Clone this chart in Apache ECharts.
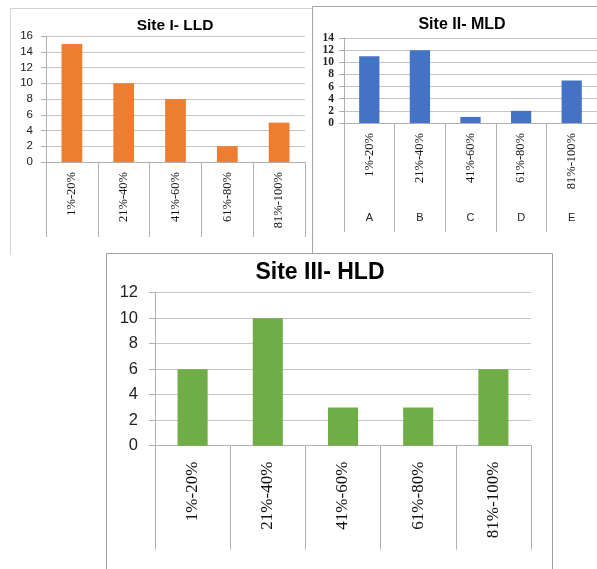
<!DOCTYPE html>
<html>
<head>
<meta charset="utf-8">
<script src="https://cdn.jsdelivr.net/npm/echarts@6/dist/echarts.min.js"></script>
<style>
  html, body { margin: 0; padding: 0; background: #fff; width: 597px; height: 569px; overflow: hidden; }
  .panel { position: absolute; background: #fff; }
</style>
</head>
<body>
<div id="c1" class="panel" style="left:10px; top:8px; width:302px; height:250px;"></div>
<div id="c2" class="panel" style="left:312px; top:6px; width:285px; height:247px;"></div>
<div id="c3" class="panel" style="left:106px; top:253px; width:447px; height:316px;"></div>
<script>
// Share of defoliation classes at three sites
const categories = ['1%-20%', '21%-40%', '41%-60%', '61%-80%', '81%-100%'];
const groupLetters = ['A', 'B', 'C', 'D', 'E'];
const siteLLD = [15, 10, 8, 2, 5];
const siteMLD = [11, 12, 1, 2, 7];
const siteHLD = [6, 10, 3, 3, 6];

const GRID_COLOR = '#c4c4c4';
const AXIS_COLOR = '#b0b0b0';
const SANS = '"Liberation Sans", Arial, sans-serif';
const SERIF = '"Liberation Serif", "Times New Roman", serif';

function frame(points, color) {
  return { type: 'polyline', silent: true, shape: { points: points },
           style: { stroke: color, lineWidth: 1, fill: null } };
}

function titleText(text, x, y, size) {
  return { type: 'text', x: x, y: y, silent: true,
           style: { text: text, fontFamily: SANS, fontWeight: 'bold', fontSize: size,
                    fill: '#000', align: 'center', verticalAlign: 'middle' } };
}

function buildOption(cfg) {
  const xAxes = [{
    type: 'category', gridIndex: 0, data: categories, position: 'bottom',
    axisLine: { show: true, lineStyle: { color: AXIS_COLOR } },
    axisTick: { show: true, interval: 0, length: cfg.sepLength, lineStyle: { color: AXIS_COLOR } },
    axisLabel: { interval: 0, rotate: 90, margin: cfg.catMargin, fontFamily: SERIF,
                 fontSize: cfg.catSize, color: '#111' }
  }];
  if (cfg.letters) {
    xAxes.push({
      type: 'category', gridIndex: 0, data: cfg.letters, position: 'bottom', offset: cfg.letterOffset,
      axisLine: { show: false }, axisTick: { show: false },
      axisLabel: { interval: 0, margin: 8, fontFamily: SANS, fontSize: 11, color: '#222' }
    });
  }
  return {
    animation: false,
    graphic: cfg.graphic,
    grid: { left: cfg.grid[0], top: cfg.grid[1], width: cfg.grid[2], height: cfg.grid[3], containLabel: false },
    xAxis: xAxes,
    yAxis: {
      type: 'value', min: 0, max: cfg.max, interval: 2,
      axisLine: { show: true, lineStyle: { color: AXIS_COLOR } },
      axisTick: { show: true, length: cfg.yTick, lineStyle: { color: AXIS_COLOR } },
      splitLine: { show: true, lineStyle: { color: GRID_COLOR } },
      axisLabel: { margin: cfg.yMargin, fontFamily: cfg.yFont, fontSize: cfg.ySize,
                   fontWeight: cfg.yWeight || 'normal', color: '#222' }
    },
    series: [{
      type: 'bar', xAxisIndex: 0, data: cfg.values, barWidth: '40%',
      itemStyle: { color: cfg.color }
    }]
  };
}

const chart1 = echarts.init(document.getElementById('c1'), null, { renderer: 'canvas' });
chart1.setOption(buildOption({
  values: siteLLD, color: '#ED7D31', max: 16,
  grid: [36, 28, 259, 126],
  sepLength: 75, catMargin: 10, catSize: 12.5,
  yTick: 5, yMargin: 13, yFont: SANS, ySize: 11.5,
  graphic: [
    frame([[0.5, 247], [0.5, 0.5], [302, 0.5]], '#d4d4d4'),
    titleText('Site I- LLD', 165, 18, 15.5)
  ]
}));

const chart2 = echarts.init(document.getElementById('c2'), null, { renderer: 'canvas' });
chart2.setOption(buildOption({
  values: siteMLD, color: '#4472C4', max: 14,
  grid: [32, 32, 254, 85],
  sepLength: 109, catMargin: 10, catSize: 12.5,
  letters: groupLetters, letterOffset: 81,
  yTick: 5, yMargin: 10, yFont: SERIF, ySize: 11.5, yWeight: 'bold',
  graphic: [
    frame([[0.5, 247], [0.5, 0.5], [285, 0.5]], '#a6a6a6'),
    titleText('Site II- MLD', 150, 19, 16)
  ]
}));

const chart3 = echarts.init(document.getElementById('c3'), null, { renderer: 'canvas' });
chart3.setOption(buildOption({
  values: siteHLD, color: '#70AD47', max: 12,
  grid: [49, 39.7, 376, 153],
  sepLength: 104, catMargin: 16, catSize: 17,
  yTick: 6, yMargin: 17, yFont: SANS, ySize: 16.5,
  graphic: [
    frame([[0.5, 316], [0.5, 0.5], [446.5, 0.5], [446.5, 316]], '#a0a0a0'),
    titleText('Site III- HLD', 214, 20, 23)
  ]
}));
</script>
</body>
</html>
